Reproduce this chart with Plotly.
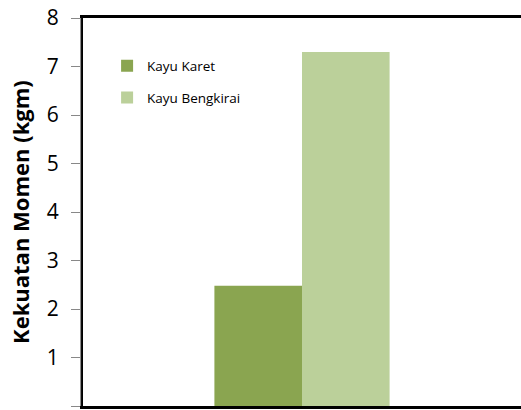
import plotly.graph_objects as go

# Data
categories = [""]
series_names = ["Kayu Karet", "Kayu Bengkirai"]
kayu_karet = [2.48]
kayu_bengkirai = [7.3]
y_ticks = [0, 1, 2, 3, 4, 5, 6, 7, 8]
y_title = "Kekuatan Momen (kgm)"

colors = ["#8AA550", "#BBD09A"]
font_family = "'Open Sans', 'Noto Sans', sans-serif"

fig = go.Figure()
for name, vals, col, grp in zip(series_names, [kayu_karet, kayu_bengkirai], colors, ["a", "b"]):
    fig.add_trace(go.Bar(
        x=categories, y=vals, name=name,
        marker=dict(color=col, line=dict(width=0)),
        legendgroup=grp,
    ))

fig.update_layout(
    width=521, height=410,
    margin=dict(l=83, r=0, t=18, b=4),
    paper_bgcolor="white", plot_bgcolor="white",
    barmode="group", bargap=0.6, bargroupgap=0,
    font=dict(family=font_family, color="black"),
    showlegend=True,
    legend=dict(
        x=0.055, y=0.916, xanchor="left", yanchor="top",
        font=dict(size=13.5, family=font_family, color="black"),
        bgcolor="rgba(0,0,0,0)", tracegroupgap=11,
        itemwidth=30,
    ),
    xaxis=dict(
        showticklabels=False, ticks="", showgrid=False, zeroline=False,
        showline=True, linecolor="black", linewidth=3, mirror=True,
    ),
    yaxis=dict(
        range=[0, 8], tickvals=y_ticks, showgrid=False, zeroline=False,
        showline=True, linecolor="black", linewidth=3,
        ticks="outside", ticklen=9, tickcolor="#888888", tickwidth=1,
        ticklabelstandoff=8,
        tickfont=dict(size=21, family=font_family, color="black"),
    ),
)

# rotated value-axis title
fig.add_annotation(
    text=f"<b>{y_title}</b>", textangle=-90, showarrow=False,
    xref="paper", yref="paper", x=-0.144, y=0.5,
    xanchor="center", yanchor="middle",
    font=dict(size=22, family=font_family, color="black"),
)

# thin grey rule along the outside of the value axis
fig.add_shape(type="line", xref="paper", yref="paper",
              x0=-0.0055, x1=-0.0055, y0=0, y1=1,
              line=dict(color="#999999", width=1))

fig.write_html("out.html")
